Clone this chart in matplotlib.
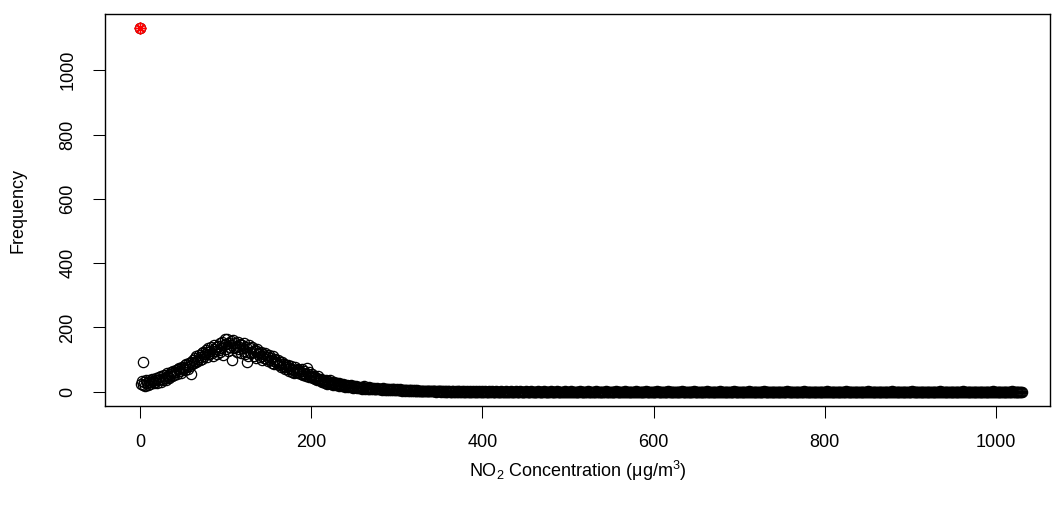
import numpy as np
import matplotlib
matplotlib.use("Agg")
import matplotlib.pyplot as plt

plt.rcParams['font.family'] = ['Liberation Sans', 'DejaVu Sans']
plt.rcParams['mathtext.fontset'] = 'custom'
plt.rcParams['mathtext.rm'] = 'Liberation Sans'
plt.rcParams['mathtext.it'] = 'Liberation Sans:italic'

# frequency of each NO2 concentration value (ug/m3), 0..350
freq_low = [
    1130,
    25, 33, 22, 93, 30, 18, 35, 27, 22, 31,
    36, 24, 29, 40, 33, 26, 38, 31, 42, 28,
    35, 45, 39, 30, 48, 41, 36, 52, 44, 38,
    50, 57, 46, 42, 55, 61, 49, 58, 65, 53,
    60, 68, 56, 71, 63, 74, 66, 59, 78, 70,
    75, 82, 69, 86, 77, 72, 90, 81, 56, 93,
    85, 98, 88, 104, 92, 110, 96, 102, 115, 99,
    108, 120, 103, 125, 112, 118, 130, 107, 122, 135,
    116, 128, 140, 121, 112, 133, 145, 126, 138, 118,
    142, 131, 150, 124, 137, 155, 115, 145, 163, 132,
    148, 165, 128, 152, 140, 158, 98, 146, 162, 135,
    150, 138, 125, 156, 142, 132, 148, 120, 145, 136,
    128, 150, 117, 140, 91, 110, 144, 125, 135, 119,
    138, 122, 112, 130, 126, 104, 133, 117, 121, 108,
    125, 111, 98, 118, 106, 120, 101, 113, 95, 109,
    115, 99, 104, 90, 110, 96, 85, 102, 93, 88,
    98, 82, 94, 87, 76, 92, 80, 86, 72, 84,
    78, 70, 83, 66, 75, 80, 62, 71, 68, 58,
    76, 62, 68, 58, 72, 60, 66, 54, 70, 57,
    52, 63, 56, 49, 75, 54, 47, 60, 50, 45,
    55, 42, 50, 39, 47, 43, 37, 49, 40, 35,
    41, 34, 29, 38, 32, 27, 36, 30, 25, 33,
    28, 35, 24, 30, 26, 22, 31, 25, 20, 28,
    23, 26, 19, 24, 21, 17, 25, 20, 16, 22,
    18, 21, 15, 19, 17, 14, 20, 16, 13, 18,
    15, 17, 12, 16, 14, 11, 15, 13, 10, 14,
    12, 18, 10, 13, 11, 9, 14, 10, 12, 8,
    11, 9, 13, 8, 10, 7, 12, 9, 8, 10,
    7, 9, 6, 11, 8, 6, 9, 7, 5, 8,
    6, 8, 5, 7, 9, 4, 7, 6, 5, 8,
    5, 6, 4, 7, 5, 3, 6, 4, 5, 3,
    5, 4, 3, 6, 4, 2, 4, 3, 5, 2,
    4, 3, 2, 4, 3, 2, 3, 1, 3, 2,
    3, 2, 1, 3, 2, 1, 2, 1, 2, 1,
    2, 1, 1, 2, 1, 0, 1, 2, 1, 1,
]

# 351..1030: the long flat tail
freq_tail = [
    1, 0, 1, 1, 0, 2, 0, 1, 0, 1, 1, 0, 0, 1, 0, 1, 0, 0, 2, 0, 1, 0, 1, 0, 0, 1, 0, 0, 1, 0, 0, 1, 0, 0, 1, 0, 0, 0, 1, 0,
    0, 1, 0, 0, 0, 1, 0, 0, 1, 0, 0, 0, 1, 0, 0, 0, 0, 1, 0, 0, 1, 0, 0, 0, 0, 1, 0, 0, 0, 0, 0, 1, 0, 0, 0, 0, 0, 1, 0, 0,
    0, 0, 1, 0, 0, 0, 0, 0, 1, 0, 0, 0, 0, 1, 0, 0, 0, 0, 0, 0, 1, 0, 0, 0, 0, 0, 1, 0, 0, 0, 0, 0, 0, 0, 1, 0, 0, 0, 0, 0,
    0, 1, 0, 0, 0, 0, 0, 0, 0, 1, 0, 0, 0, 0, 0, 0, 1, 0, 0, 0, 0, 0, 0, 0, 0, 1, 0, 0, 0, 0, 0, 0, 0, 1, 0, 0, 0, 0, 0, 0,
    0, 0, 0, 1, 0, 0, 0, 0, 0, 0, 0, 0, 1, 0, 0, 0, 0, 0, 0, 0, 0, 0, 1, 0, 0, 0, 0, 0, 0, 0, 0, 0, 0, 1, 0, 0, 0, 0, 0, 0,
    0, 0, 0, 0, 0, 1, 0, 0, 0, 0, 0, 0, 0, 0, 0, 0, 1, 0, 0, 0, 0, 0, 0, 0, 0, 0, 0, 0, 1, 0, 0, 0, 0, 0, 0, 0, 0, 0, 0, 0,
    1, 0, 0, 0, 0, 0, 0, 0, 0, 0, 0, 0, 0, 1, 0, 0, 0, 0, 0, 0, 0, 0, 0, 0, 0, 0, 1, 0, 0, 0, 0, 0, 0, 0, 0, 0, 0, 0, 0, 0,
    0, 0, 1, 0, 0, 0, 0, 0, 0, 0, 0, 0, 0, 0, 0, 0, 1, 0, 0, 0, 0, 0, 0, 0, 0, 0, 0, 0, 0, 0, 0, 1, 0, 0, 0, 0, 0, 0, 0, 0,
    0, 0, 0, 0, 0, 0, 0, 1, 0, 0, 0, 0, 0, 0, 0, 0, 0, 0, 0, 0, 0, 0, 0, 1, 0, 0, 0, 0, 0, 0, 0, 0, 0, 0, 0, 0, 0, 0, 0, 0,
    1, 0, 0, 0, 0, 0, 0, 0, 0, 0, 0, 0, 0, 0, 0, 0, 0, 0, 1, 0, 0, 0, 0, 0, 0, 0, 0, 0, 0, 0, 0, 0, 0, 0, 0, 0, 0, 0, 0, 0,
    0, 0, 0, 0, 0, 1, 0, 0, 0, 0, 0, 0, 0, 0, 0, 0, 0, 0, 0, 0, 0, 0, 0, 0, 0, 1, 0, 0, 0, 0, 0, 0, 0, 0, 0, 0, 0, 0, 0, 0,
    0, 0, 0, 0, 0, 0, 0, 0, 0, 0, 0, 0, 1, 0, 0, 0, 0, 0, 0, 0, 0, 0, 0, 0, 0, 0, 0, 0, 0, 0, 0, 0, 0, 0, 1, 0, 0, 0, 0, 0,
    0, 0, 0, 0, 0, 0, 0, 0, 0, 0, 0, 0, 0, 0, 0, 0, 0, 0, 0, 0, 1, 0, 0, 0, 0, 0, 0, 0, 0, 0, 0, 0, 0, 0, 0, 0, 0, 0, 0, 0,
    0, 0, 0, 0, 0, 0, 0, 1, 0, 0, 0, 0, 0, 0, 0, 0, 0, 0, 0, 0, 0, 0, 0, 0, 0, 0, 0, 0, 0, 0, 0, 1, 0, 0, 0, 0, 0, 0, 0, 0,
    0, 0, 0, 0, 0, 0, 0, 0, 0, 0, 0, 0, 0, 0, 0, 0, 0, 0, 0, 0, 0, 0, 0, 0, 1, 0, 0, 0, 0, 0, 0, 0, 0, 0, 0, 0, 0, 0, 0, 0,
    0, 0, 0, 0, 0, 0, 0, 0, 0, 0, 0, 1, 0, 0, 0, 0, 0, 0, 0, 0, 0, 0, 0, 0, 0, 0, 0, 0, 0, 0, 0, 0, 0, 0, 0, 0, 0, 0, 0, 0,
    0, 0, 0, 0, 0, 0, 1, 0, 0, 0, 0, 0, 0, 0, 0, 0, 0, 0, 0, 0, 0, 0, 0, 0, 0, 0, 0, 0, 1, 0, 0, 0, 0, 0, 0, 0, 0, 0, 0, 0,
]

freq = np.array(freq_low + freq_tail)
conc = np.arange(len(freq))

x_ticks = [0, 200, 400, 600, 800, 1000]
y_ticks = [0, 200, 400, 600, 800, 1000]

fig = plt.figure(figsize=(10.53, 5.05), dpi=100)
ax = fig.add_axes([0.0997, 0.196, 0.8974, 0.7756])

ax.plot(conc, freq, linestyle='none', marker='o', markersize=7.4,
        markerfacecolor='none', markeredgecolor='black', markeredgewidth=0.9)

# highlight the zero-concentration bin
ax.plot(conc[0], freq[0], linestyle='none', marker='o', markersize=7.4,
        markerfacecolor='none', markeredgecolor='red', markeredgewidth=0.9)
ax.plot(conc[0], freq[0], linestyle='none', marker=(8, 2, 0), markersize=8.5,
        markeredgecolor='red', markeredgewidth=1.0)

ax.set_xlim(-40.9, 1063)
ax.set_ylim(-44.5, 1174)
ax.set_xticks(x_ticks)
ax.set_yticks(y_ticks)
ax.tick_params(axis='both', length=8.6, width=0.75, labelsize=13, color='black')
ax.tick_params(axis='x', pad=11.5)
ax.tick_params(axis='y', pad=12)
for lab in ax.get_yticklabels():
    lab.set_rotation(90)
    lab.set_va('center')

for sp in ax.spines.values():
    sp.set_linewidth(1.0)

ax.set_xlabel('NO$_2$ Concentration (μg/m$^3$)', fontsize=13, va='center')
ax.xaxis.set_label_coords(0.5, -0.165)
ax.set_ylabel('Frequency', fontsize=13, va='center')
ax.yaxis.set_label_coords(-0.092, 0.5)

fig.savefig('out.png', dpi=100)
